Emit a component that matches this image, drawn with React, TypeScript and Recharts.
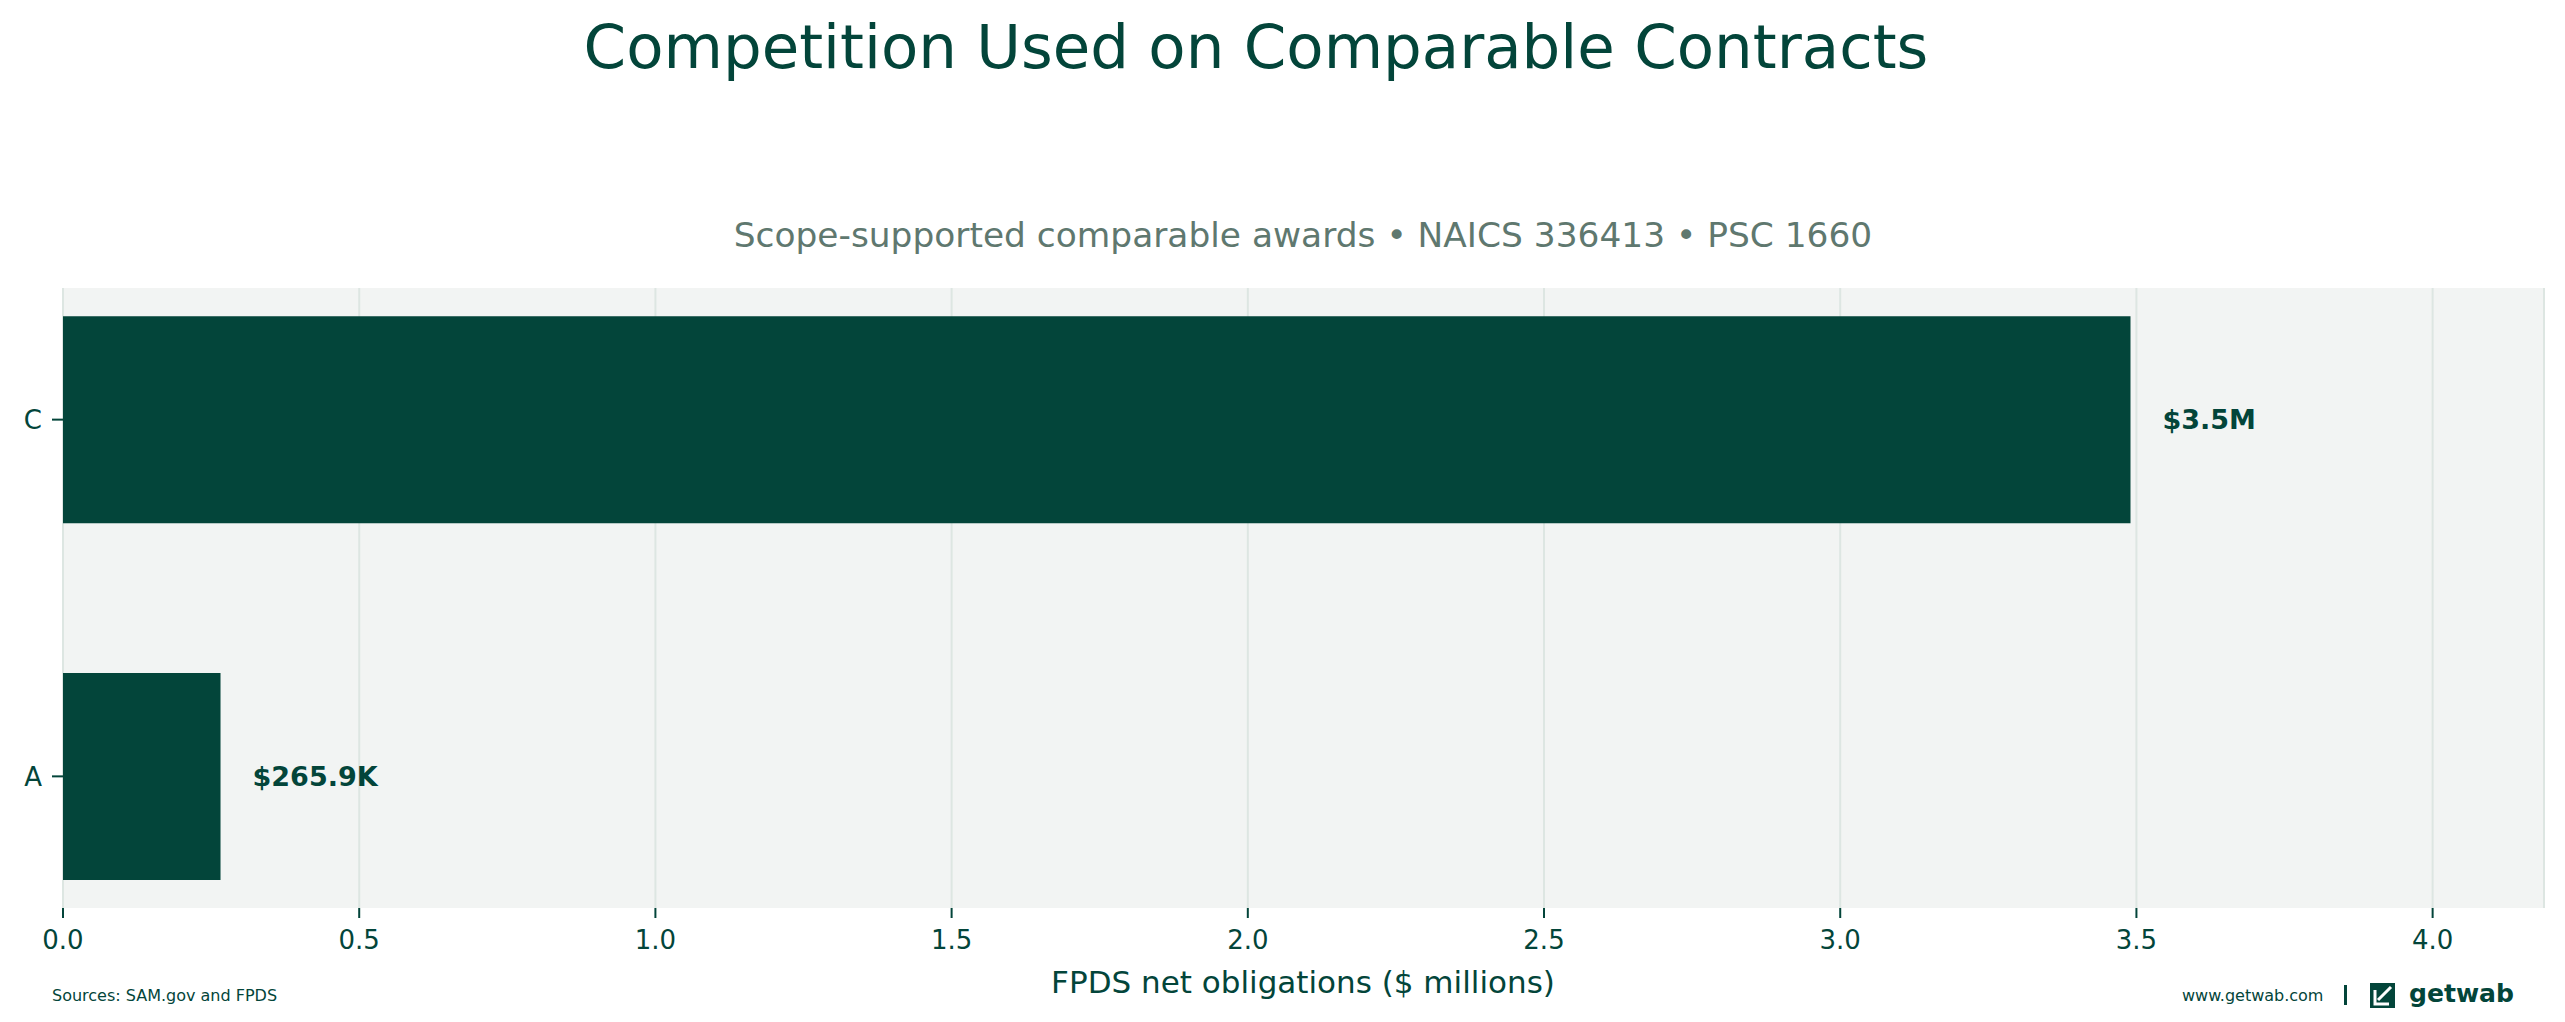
import { Bar, BarChart, CartesianGrid, LabelList, XAxis, YAxis } from 'recharts';

// Competition type on comparable awards, FPDS net obligations in $ millions
const categories = ['A', 'C'];
const obligations = [0.2659, 3.49];
const valueLabels = ['$265.9K', '$3.5M'];
const xTicks = [0, 0.5, 1, 1.5, 2, 2.5, 3, 3.5, 4];

const DARK = '#03453a';
const MUTED = '#5f786f';
const PANEL = '#f2f4f3';
const GRID = '#dde6e2';
const FONT = '"DejaVu Sans", sans-serif';

const W = 2565;
const H = 1022;
const PLOT = { left: 63, top: 288, right: 2544, bottom: 908 };
const X_MAX = 4.188;
const BAR_FRACTION = 0.58;
const Y_DOMAIN: [number, number] = [-0.369, 1.369];

const data = categories.map((category, i) => ({
  category,
  pos: i,
  value: obligations[i],
  label: valueLabels[i],
}));

const plotHeight = PLOT.bottom - PLOT.top;
const barSize = (plotHeight / (Y_DOMAIN[1] - Y_DOMAIN[0])) * BAR_FRACTION;

function Logo() {
  return (
    <g>
      <rect x={2344} y={985} width={3} height={20} fill={DARK} />
      <rect x={2370} y={983} width={25} height={25} fill={DARK} />
      <path d="M2391 987 L2378 1000" stroke="#fff" strokeWidth={3} fill="none" />
      <path d="M2375 990 L2375 1004 L2389 1004" stroke="#fff" strokeWidth={3} fill="none" />
      <text
        x={2409}
        y={1002}
        fontSize={24}
        fontWeight="bold"
        fill={DARK}
        textLength={105}
        lengthAdjust="spacingAndGlyphs"
      >
        getwab
      </text>
    </g>
  );
}

export default function App() {
  return (
    <div style={{ position: 'absolute', left: 0, top: 0, width: W, height: H, background: '#fff', fontFamily: FONT }}>
      <BarChart
        width={W}
        height={H}
        data={data}
        layout="vertical"
        margin={{ top: PLOT.top, right: W - PLOT.right, bottom: 0, left: 0 }}
      >
        <CartesianGrid horizontal={false} fill={PANEL} stroke={GRID} strokeWidth={2} />
        <XAxis
          type="number"
          dataKey="value"
          domain={[0, X_MAX]}
          ticks={xTicks}
          interval={0}
          allowDataOverflow
          tickFormatter={(v: number) => v.toFixed(1)}
          axisLine={false}
          tickLine={{ stroke: DARK, strokeWidth: 2 }}
          tickSize={10}
          tickMargin={13}
          height={H - PLOT.bottom}
          tick={{ fill: DARK, fontSize: 26, fontFamily: FONT }}
        />
        <YAxis
          type="number"
          dataKey="pos"
          domain={Y_DOMAIN}
          reversed
          ticks={[0, 1]}
          interval={0}
          allowDataOverflow
          tickFormatter={(v: number) => categories[v] ?? ''}
          axisLine={false}
          tickLine={{ stroke: DARK, strokeWidth: 2 }}
          tickSize={11}
          tickMargin={10}
          width={PLOT.left}
          tick={{ fill: DARK, fontSize: 26, fontFamily: FONT }}
        />
        <Bar dataKey="value" fill={DARK} barSize={barSize} isAnimationActive={false}>
          <LabelList
            dataKey="label"
            position="right"
            offset={32}
            fill={DARK}
            fontSize={27}
            fontWeight="bold"
            fontFamily={FONT}
          />
        </Bar>
      </BarChart>
      <svg
        width={W}
        height={H}
        style={{ position: 'absolute', left: 0, top: 0, pointerEvents: 'none' }}
        fontFamily={FONT}
      >
        <text x={1256} y={68} textAnchor="middle" fontSize={61} fill={DARK}>
          Competition Used on Comparable Contracts
        </text>
        <text x={1303} y={247} textAnchor="middle" fontSize={34.4} fill={MUTED}>
          Scope-supported comparable awards • NAICS 336413 • PSC 1660
        </text>
        <text x={1303} y={993} textAnchor="middle" fontSize={31} fill={DARK}>
          FPDS net obligations ($ millions)
        </text>
        <text x={52} y={1001} fontSize={16} fill={DARK}>
          Sources: SAM.gov and FPDS
        </text>
        <text x={2182} y={1001} fontSize={16} fill={DARK}>
          www.getwab.com
        </text>
        <Logo />
      </svg>
    </div>
  );
}
